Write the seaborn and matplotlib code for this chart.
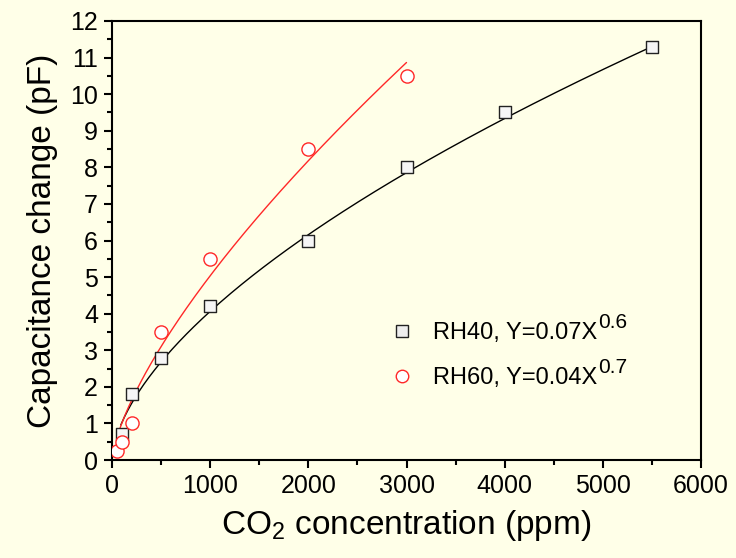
import numpy as np
import pandas as pd
import matplotlib
matplotlib.use("Agg")
import matplotlib.pyplot as plt
import seaborn as sns
from matplotlib.lines import Line2D

# ---- data ----
rh40_x = [100, 200, 500, 1000, 2000, 3000, 4000, 5500]
rh40_y = [0.7, 1.8, 2.8, 4.2, 6.0, 8.0, 9.5, 11.3]
rh60_x = [50, 100, 200, 500, 1000, 2000, 3000]
rh60_y = [0.25, 0.5, 1.0, 3.5, 5.5, 8.5, 10.5]

# power-law fits Y = a * X^b (curves as drawn)
rh40_fit = {"a": 0.0644, "b": 0.6, "x0": 90, "x1": 5500}
rh60_fit = {"a": 0.040, "b": 0.7, "x0": 50, "x1": 3000}

labels = ["RH40, Y=0.07X", "RH60, Y=0.04X"]
label_exps = ["0.6", "0.7"]
x_ticks = [0, 1000, 2000, 3000, 4000, 5000, 6000]
y_ticks = list(range(0, 13))

bg = "#FFFFE8"
red = "#FF2828"

sns.set_theme(style="ticks")
plt.rcParams["font.family"] = ["Liberation Sans", "DejaVu Sans"]
plt.rcParams["mathtext.fontset"] = "custom"
plt.rcParams["mathtext.rm"] = "Liberation Sans"
plt.rcParams["mathtext.it"] = "Liberation Sans"
plt.rcParams["mathtext.bf"] = "Liberation Sans"
plt.rcParams["mathtext.sf"] = "Liberation Sans"
plt.rcParams["mathtext.default"] = "regular"
for k in ["text.color", "axes.labelcolor", "xtick.color", "ytick.color"]:
    plt.rcParams[k] = "black"

fig = plt.figure(figsize=(7.36, 5.58), dpi=100, facecolor=bg)
ax = fig.add_axes([112 / 736, 1 - 460 / 558, 589 / 736, 439 / 558])
ax.set_facecolor(bg)

def fit_curve(p):
    xs = np.linspace(p["x0"], p["x1"], 300)
    return pd.DataFrame({"x": xs, "y": p["a"] * xs ** p["b"]})

f40 = fit_curve(rh40_fit)
f60 = fit_curve(rh60_fit)
sns.lineplot(data=f40, x="x", y="y", ax=ax, color="black", lw=1.0, zorder=2)
sns.lineplot(data=f60, x="x", y="y", ax=ax, color=red, lw=1.0, zorder=2)

d40 = pd.DataFrame({"x": rh40_x, "y": rh40_y})
d60 = pd.DataFrame({"x": rh60_x, "y": rh60_y})
sns.scatterplot(data=d40, x="x", y="y", ax=ax, marker="s", s=70,
                facecolor="#F6F6F6", edgecolor="#222222", linewidth=1.0, zorder=3)
sns.scatterplot(data=d60, x="x", y="y", ax=ax, marker="o", s=90,
                facecolor="white", edgecolor=red, linewidth=1.0, zorder=3)

ax.set_xlim(0, 6000)
ax.set_ylim(0, 12)
ax.set_xticks(x_ticks)
ax.set_yticks(y_ticks)
ax.set_xticks([500, 1500, 2500, 3500, 4500, 5500], minor=True)
ax.set_yticks(np.arange(0.5, 12, 1.0), minor=True)
ax.tick_params(which="major", direction="out", length=6, width=1.5,
               labelsize=18, colors="black", pad=4)
ax.tick_params(which="minor", direction="out", length=3.5, width=1.5)
ax.tick_params(top=False, right=False, which="both")
for s in ax.spines.values():
    s.set_linewidth(1.5)
    s.set_color("black")
    s.set_visible(True)

ax.set_xlabel("CO$_2$ concentration (ppm)", fontsize=24, labelpad=7)
ax.set_ylabel("Capacitance change (pF)", fontsize=24, labelpad=9)

handles = [
    Line2D([], [], ls="none", marker="s", markersize=8.3, markerfacecolor="#EEEEEE",
           markeredgecolor="#222222", markeredgewidth=1.0),
    Line2D([], [], ls="none", marker="o", markersize=9, markerfacecolor="white",
           markeredgecolor=red, markeredgewidth=1.0),
]
leg = ax.legend(handles, labels, loc="upper left", bbox_to_anchor=(0.472, 0.314),
                frameon=False, fontsize=17, handlelength=1.0, handletextpad=0.83,
                labelspacing=0.96, borderpad=0, borderaxespad=0)

# superscript exponents after each legend label
fig.canvas.draw()
renderer = fig.canvas.get_renderer()
fs_px = 17 * 100 / 72
for txt, ex in zip(leg.get_texts(), label_exps):
    bb = txt.get_window_extent(renderer)
    baseline = bb.y0 + 0.212 * fs_px
    fig.text((bb.x1 + 1) / fig.bbox.width, (baseline + 11) / fig.bbox.height, ex,
             fontsize=15, va="baseline", ha="left", color="black")

fig.savefig("out.png", dpi=100, facecolor=bg)
